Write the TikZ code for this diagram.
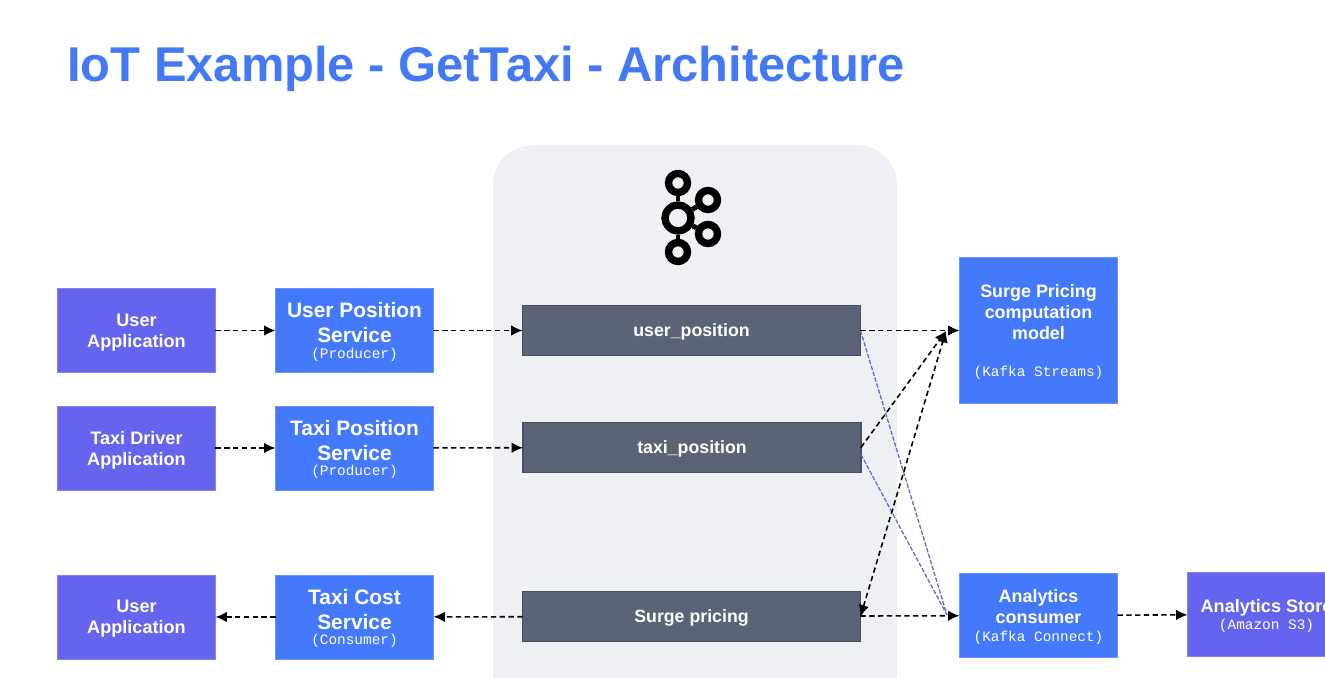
\documentclass[tikz,border=0pt]{standalone}
\usepackage{xcolor}
\usepackage{fontspec}
\setmainfont{Liberation Sans}
\newfontfamily\monofnt{Liberation Mono}
\usepackage{tikz}
\usetikzlibrary{arrows.meta}
\definecolor{titleblue}{HTML}{4479F6}
\definecolor{svcblue}{HTML}{4579FB}
\definecolor{apppurple}{HTML}{6464EE}
\definecolor{topicgrey}{HTML}{5B6377}
\definecolor{panelgrey}{HTML}{EFF0F4}
\definecolor{crossblue}{HTML}{6A6AC8}
\newcommand{\subline}[1]{{\mdseries\monofnt\fontsize{8.2}{11}\selectfont #1}}
\tikzset{
box/.style = {rectangle, text=white, inner sep=0pt, outer sep=0pt, text depth=0pt, align=center, minimum width=3.16cm, minimum height=1.68cm},
appbox/.style = {box, fill=apppurple, draw=apppurple!80!white, line width=0.4pt, font=\bfseries\fontsize{10.3}{12}\selectfont},
svcbox/.style = {box, fill=svcblue, draw=svcblue!80!white, line width=0.4pt, font=\bfseries\fontsize{11.9}{14.2}\selectfont},
topicbox/.style = {box, fill=topicgrey, draw=topicgrey!80!black, line width=0.7pt, minimum width=6.76cm, minimum height=1cm, font=\bfseries\fontsize{10.1}{12}\selectfont},
ring/.style = {circle, draw=black, line width=4.2pt, inner sep=0pt, minimum size=0.38cm},
flow/.style = {densely dashed, line width=0.9pt, -{Latex[length=6.5pt,width=6pt]}},
crossflow/.style = {draw=crossblue, dash pattern=on 2.5pt off 1pt, line width=0.75pt},
}
\begin{document}
\begin{tikzpicture}[x=0.02cm,y=-0.02cm]
    \clip (0,0) rectangle (1325,678);
    \useasboundingbox (0,0) rectangle (1325,678);
    \node[anchor=west, text=titleblue, inner sep=0pt, font=\bfseries\fontsize{27.8}{30}\selectfont] (title) at (67,69) {IoT Example - GetTaxi - Architecture};

    \fill[panelgrey, rounded corners=0.8cm] (493,145) rectangle (897,760);

    % kafka logo
    \node[ring] (logoTop) at (678,183) {};
    \node[ring] (logoUp) at (708,200) {};
    \node[ring] (logoDown) at (708,234) {};
    \node[ring] (logoBottom) at (678,252) {};
    \node[ring, minimum size=0.52cm] (logoHub) at (678,218) {};
    \draw[line width=2.8pt] (logoHub) -- (logoTop);
    \draw[line width=2.8pt] (logoHub) -- (logoUp);
    \draw[line width=2.8pt] (logoHub) -- (logoDown);
    \draw[line width=2.8pt] (logoHub) -- (logoBottom);

    \node[appbox] (userApp) at (136.5,330.5) {User\\Application};
    \node[svcbox] (userSvc) at (354.5,330.5) {User Position\\Service\\[-5.3pt]\subline{(Producer)}};
    \node[appbox] (driverApp) at (136.5,448) {Taxi Driver\\Application};
    \node[svcbox] (taxiSvc) at (354.5,448) {Taxi Position\\Service\\[-5.3pt]\subline{(Producer)}};
    \node[appbox] (costApp) at (136.5,617) {User\\Application};
    \node[svcbox] (costSvc) at (354.5,617) {Taxi Cost\\Service\\[-5.3pt]\subline{(Consumer)}};

    \node[topicbox] (userTopic) at (691.5,330.5) {user\_position};
    \node[topicbox] (taxiTopic) at (692,447.5) {taxi\_position};
    \node[topicbox] (surgeTopic) at (691.5,616.5) {Surge pricing};

    \node[svcbox, minimum height=2.92cm, font=\bfseries\fontsize{10.2}{12}\selectfont] (model) at (1038.5,330.5) {Surge Pricing\\computation\\model\\[9.5pt]\subline{(Kafka Streams)}};
    \node[svcbox, font=\bfseries\fontsize{10.2}{12}\selectfont] (consumer) at (1038.5,615.5) {Analytics\\consumer\\[-2pt]\subline{(Kafka Connect)}};
    \node[appbox] (store) at (1266.5,614.5) {Analytics Store\\[-2.5pt]\subline{(Amazon S3)}};

    \coordinate (modelIn) at (946,331);
    \coordinate (consumerIn) at (947,615);

    \draw[flow] (userApp) -- (userSvc);
    \draw[flow] (userSvc) -- (userTopic);
    \draw[flow] (driverApp) -- (taxiSvc);
    \draw[flow] (taxiSvc) -- (taxiTopic);
    \draw[flow] (surgeTopic) -- (costSvc);
    \draw[flow] (costSvc) -- (costApp);
    \draw[crossflow] (userTopic.east) -- (consumerIn);
    \draw[crossflow] (taxiTopic.east) ++(0,7) -- (consumerIn);
    \draw[flow] (userTopic) -- (model);
    \draw[flow] (taxiTopic.east) -- (modelIn);
    \draw[flow, {Latex[length=6.5pt,width=6pt]}-{Latex[length=6.5pt,width=6pt]}] (surgeTopic.east) -- (modelIn);
    \draw[flow] (surgeTopic) -- (consumer);
    \draw[flow] (consumer) -- (store);
\end{tikzpicture}
\end{document}
